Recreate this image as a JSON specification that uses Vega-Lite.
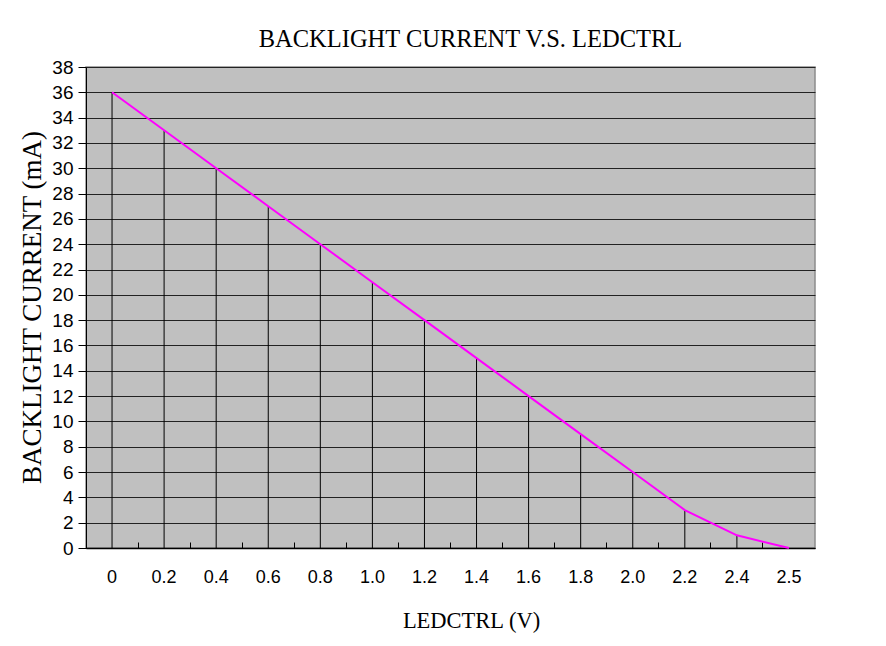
{
  "$schema": "https://vega.github.io/schema/vega-lite/v6.json",
  "width": 729,
  "height": 481,
  "autosize": {"type": "none"},
  "padding": {"left": 86, "top": 67, "right": 71, "bottom": 98},
  "background": "white",
  "title": {
    "text": "BACKLIGHT CURRENT V.S. LEDCTRL",
    "font": "Liberation Serif",
    "fontSize": 24.5,
    "fontWeight": "normal",
    "color": "black",
    "anchor": "middle",
    "offset": 6,
    "dx": 20
  },
  "config": {
    "view": {"fill": "#c0c0c0", "stroke": "#8c8c8c", "strokeWidth": 1.5},
    "axis": {
      "labelFont": "Liberation Sans",
      "labelFontSize": 18,
      "labelColor": "black",
      "titleFont": "Liberation Serif",
      "titleFontSize": 22.5,
      "titleFontWeight": "normal",
      "titleColor": "black",
      "domainColor": "black",
      "tickColor": "black"
    }
  },
  "data": {
    "values": [
      {"v": "0", "mA": 36},
      {"v": "0.2", "mA": 33},
      {"v": "0.4", "mA": 30},
      {"v": "0.6", "mA": 27},
      {"v": "0.8", "mA": 24},
      {"v": "1.0", "mA": 21},
      {"v": "1.2", "mA": 18},
      {"v": "1.4", "mA": 15},
      {"v": "1.6", "mA": 12},
      {"v": "1.8", "mA": 9},
      {"v": "2.0", "mA": 6},
      {"v": "2.2", "mA": 3},
      {"v": "2.4", "mA": 1},
      {"v": "2.5", "mA": 0}
    ]
  },
  "resolve": {"axis": {"x": "independent"}},
  "encoding": {
    "y": {
      "field": "mA",
      "type": "quantitative",
      "scale": {"domain": [0, 38], "nice": false},
      "axis": {
        "title": "BACKLIGHT CURRENT (mA)",
        "titleFontSize": 27,
        "values": [0, 2, 4, 6, 8, 10, 12, 14, 16, 18, 20, 22, 24, 26, 28, 30, 32, 34, 36, 38],
        "labelFontSize": 19,
        "labelOverlap": false,
        "labelBound": false,
        "labelFlush": false,
        "grid": true,
        "gridColor": "#222222",
        "gridOpacity": 1,
        "gridWidth": 1,
        "tickSize": 8,
        "labelPadding": 5,
        "domainWidth": 1,
        "titleX": -54,
        "titleY": 240,
        "titleAlign": "center",
        "titleBaseline": "middle"
      }
    }
  },
  "layer": [
    {
      "mark": {"type": "rule", "color": "black", "strokeWidth": 1},
      "encoding": {
        "x": {
          "field": "v",
          "type": "ordinal",
          "sort": null,
          "scale": {"type": "band", "paddingInner": 0, "paddingOuter": 0},
          "axis": {
            "orient": "bottom",
            "title": "LEDCTRL (V)",
            "labelAngle": 0,
            "ticks": false,
            "tickSize": 0,
            "labelPadding": 20,
            "labelBaseline": "top",
            "labelOverlap": false,
            "domain": true,
            "domainWidth": 1.5,
            "titleX": 385,
            "titleY": 72,
            "titleBaseline": "middle"
          }
        },
        "y2": {"datum": 0}
      }
    },
    {
      "mark": {"type": "line", "color": "#ff00ff", "strokeWidth": 2},
      "encoding": {
        "x": {
          "field": "v",
          "type": "ordinal",
          "sort": null,
          "axis": {
            "orient": "bottom",
            "title": null,
            "labels": false,
            "domain": false,
            "ticks": true,
            "bandPosition": 0,
            "tickSize": -6,
            "grid": false
          }
        }
      }
    }
  ]
}
